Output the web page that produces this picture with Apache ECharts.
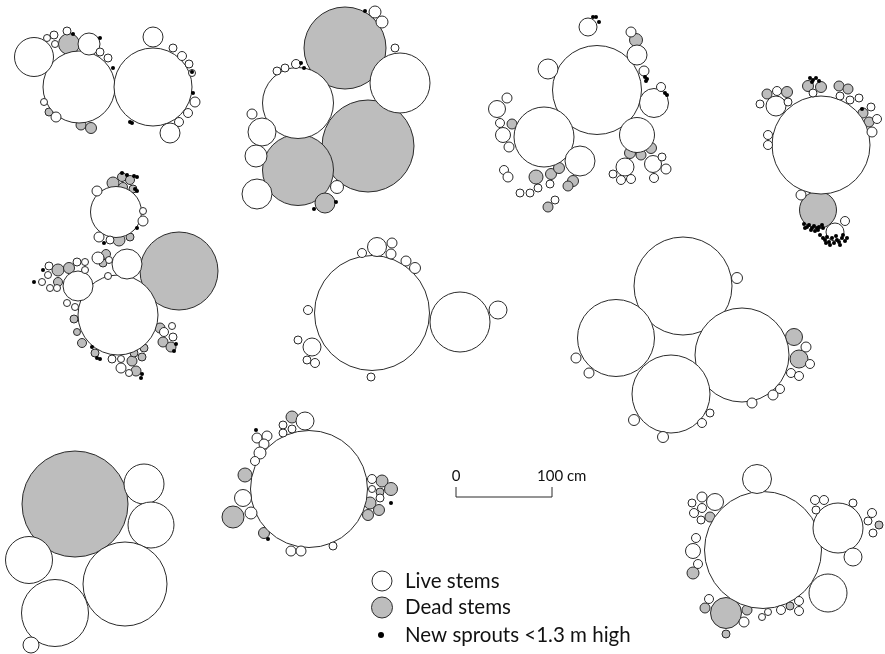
<!DOCTYPE html>
<html>
<head>
<meta charset="utf-8">
<script src="https://cdn.jsdelivr.net/npm/echarts@6/dist/echarts.min.js"></script>
<style>
  html, body { margin: 0; padding: 0; background: #fff; }
  #chart { width: 885px; height: 654px; }
</style>
</head>
<body>
<div id="chart"></div>
<script>
// Stem maps of coppice clumps. Each stem: [x, y, diameter], plotted in map units (1 unit = 1 px, 100 cm = 96 units).
const deadStems = [
  // clump 1
  [69, 44, 21], [49, 112, 8], [81, 125, 10], [91, 128, 11],
  // clump 2
  [345, 48, 82], [368, 146, 92], [298, 170, 71], [325, 203, 20],
  // clump 3
  [636, 40, 13], [512, 124, 10], [536, 177, 14], [551, 174, 11], [559, 168, 11],
  [573, 181, 11], [568, 186, 10], [548, 207, 10], [630, 153, 11], [641, 155, 10], [651, 148, 11],
  // clump 4
  [818, 210, 37], [767, 94, 10], [787, 92, 11], [808, 86, 11], [821, 87, 11],
  [839, 86, 10], [848, 89, 10], [863, 113, 10], [869, 122, 10],
  // clump 5
  [179, 271, 78], [113, 183, 12], [122, 177, 9], [130, 180, 9], [133, 189, 8], [123, 187, 9],
  [119, 240, 12], [130, 237, 8], [106, 254, 9], [103, 263, 8], [58, 270, 12], [69, 268, 11],
  [58, 282, 9], [74, 319, 8], [77, 332, 7], [82, 343, 9], [95, 353, 8], [160, 328, 10],
  [163, 342, 10], [171, 347, 10], [132, 361, 10], [142, 357, 8], [144, 348, 8], [134, 353, 8], [136, 371, 10],
  // clump 7
  [794, 337, 17], [799, 359, 18],
  // clump 8
  [75, 504, 106],
  // clump 9
  [292, 417, 12], [245, 475, 14], [233, 517, 22], [264, 533, 11], [382, 481, 12], [391, 489, 13],
  [380, 492, 8], [370, 503, 12], [379, 510, 11], [368, 515, 11],
  // clump 11
  [726, 613, 31], [710, 517, 10], [693, 573, 12], [705, 608, 10], [747, 610, 10], [726, 634, 8],
  [790, 606, 8], [879, 525, 8]
];

const liveStems = [
  // clump 1
  [79, 87, 72], [153, 87, 78], [34, 57, 39], [89, 44, 22], [47, 38, 7], [54, 35, 8], [67, 31, 8],
  [55, 44, 7], [100, 52, 8], [108, 58, 8], [153, 37, 20], [173, 48, 8], [182, 56, 9], [189, 64, 8],
  [192, 73, 7], [195, 102, 10], [188, 113, 9], [179, 122, 9], [170, 133, 20], [44, 102, 7], [56, 117, 10],
  // clump 2
  [400, 83, 60], [298, 103, 71], [262, 132, 28], [256, 156, 22], [257, 194, 30], [252, 114, 10],
  [337, 187, 13], [375, 12, 12], [382, 22, 12], [395, 48, 8], [277, 71, 8], [285, 68, 8], [296, 64, 9],
  // clump 3
  [597, 90, 89], [544, 137, 60], [654, 103, 29], [637, 135, 35], [580, 161, 30], [588, 27, 18],
  [548, 69, 20], [631, 32, 10], [637, 55, 20], [644, 71, 10], [661, 87, 9], [507, 98, 10], [497, 109, 17],
  [500, 123, 9], [503, 135, 15], [509, 147, 10], [504, 170, 9], [508, 177, 10], [550, 184, 8],
  [538, 188, 8], [530, 193, 8], [520, 193, 8], [555, 200, 8], [625, 167, 18], [653, 164, 17],
  [662, 157, 8], [666, 169, 10], [613, 174, 8], [621, 180, 9], [631, 179, 9], [654, 178, 9],
  // clump 4
  [821, 145, 98], [835, 232, 18], [845, 221, 9], [801, 195, 10], [768, 135, 9], [768, 145, 9],
  [776, 106, 20], [777, 91, 9], [760, 104, 8], [788, 102, 8], [813, 93, 8], [840, 96, 8], [850, 100, 8],
  [859, 98, 8], [871, 107, 8], [877, 119, 9], [872, 132, 10],
  // clump 5
  [118, 315, 80], [127, 264, 30], [116, 212, 51], [78, 286, 30], [97, 191, 10], [143, 211, 7],
  [143, 221, 10], [99, 237, 10], [110, 240, 8], [98, 258, 12], [109, 260, 7], [108, 276, 7],
  [49, 266, 8], [77, 262, 8], [85, 262, 7], [85, 270, 7], [48, 275, 7], [42, 282, 7], [50, 288, 7],
  [57, 288, 7], [67, 303, 7], [75, 307, 7], [172, 326, 7], [164, 332, 9], [173, 337, 8],
  [112, 359, 8], [121, 359, 7], [121, 368, 10], [129, 373, 7],
  // clump 6
  [372, 313, 115], [460, 322, 60], [498, 310, 18], [377, 247, 19], [392, 243, 10], [391, 254, 10],
  [362, 253, 9], [406, 261, 10], [415, 268, 11], [308, 310, 9], [312, 347, 18], [298, 340, 8],
  [307, 360, 8], [315, 363, 9], [371, 377, 8],
  // clump 7
  [683, 286, 98], [616, 338, 77], [742, 355, 94], [671, 394, 78], [737, 278, 11], [576, 358, 10],
  [589, 373, 10], [806, 347, 10], [810, 364, 9], [791, 373, 9], [799, 376, 9], [780, 389, 9],
  [773, 395, 10], [752, 403, 10], [634, 420, 11], [702, 423, 9], [710, 413, 8], [663, 437, 11],
  // clump 8
  [144, 484, 40], [151, 525, 46], [125, 584, 84], [29, 560, 47], [55, 613, 67], [31, 645, 16],
  // clump 9
  [309, 489, 117], [305, 421, 18], [283, 425, 8], [292, 429, 8], [283, 433, 8], [257, 438, 10],
  [267, 436, 10], [264, 444, 10], [260, 453, 12], [255, 461, 9], [243, 498, 17], [251, 513, 12],
  [291, 551, 10], [301, 551, 10], [333, 546, 8], [372, 479, 9], [372, 489, 7], [380, 498, 8],
  // clump 11
  [763, 550, 117], [757, 479, 29], [838, 528, 50], [828, 593, 38], [853, 557, 18], [715, 502, 17],
  [702, 497, 10], [692, 503, 8], [702, 508, 9], [694, 513, 9], [701, 520, 8], [696, 538, 9],
  [693, 551, 15], [698, 564, 9], [815, 500, 9], [824, 500, 9], [816, 510, 8], [853, 503, 8],
  [872, 513, 9], [868, 521, 8], [873, 533, 8], [709, 599, 9], [744, 622, 10], [762, 617, 7],
  [768, 612, 7], [781, 610, 9], [799, 601, 9], [799, 611, 9]
];

const newSprouts = [
  // clump 1
  [73, 34], [100, 38], [113, 68], [192, 72], [193, 93], [130, 122], [132, 123],
  // clump 2
  [365, 11], [301, 63], [304, 68], [336, 202], [314, 209],
  // clump 3
  [593, 17], [596, 17], [599, 22], [645, 77], [647, 79], [646, 81], [665, 93], [667, 95],
  // clump 4
  [810, 78], [813, 80], [816, 78], [819, 81], [812, 82], [862, 109],
  [804, 224], [807, 227], [809, 225], [812, 228], [814, 226], [817, 228], [819, 227], [822, 225],
  [805, 228], [811, 230], [815, 231], [818, 230], [823, 228], [820, 235], [823, 238], [825, 240],
  [827, 237], [829, 242], [832, 238], [834, 243], [837, 240], [839, 242], [842, 238], [843, 235],
  [845, 241], [840, 245], [830, 245], [826, 243], [836, 236], [847, 238],
  // clump 5
  [122, 173], [127, 175], [134, 176], [137, 177], [135, 189], [137, 191], [137, 228], [104, 243],
  [43, 270], [34, 282], [92, 347], [97, 358], [100, 359], [176, 344], [174, 351], [142, 374], [141, 378],
  // clump 9
  [256, 430], [268, 539], [391, 503]
];

const legendLabels = ['Live stems', 'Dead stems', 'New sprouts <1.3 m high'];
const scaleLabels = ['0', '100 cm'];
const scaleLengthCm = 100;
const unitsPerCm = 0.96;

const LINE = '#2b2b2b';
const DEAD_FILL = '#bdbdbd';

const chart = echarts.init(document.getElementById('chart'), null, { renderer: 'canvas' });

const stemSeries = (name, data, fill) => ({
  name,
  type: 'scatter',
  data,
  symbol: 'circle',
  symbolSize: v => v[2],
  itemStyle: { color: fill, borderColor: LINE, borderWidth: 1, opacity: 1 },
  emphasis: { disabled: true },
  silent: true,
  animation: false
});

chart.setOption({
  backgroundColor: '#ffffff',
  animation: false,
  grid: { left: 0, right: 0, top: 0, bottom: 0 },
  xAxis: { type: 'value', min: 0, max: 885, show: false },
  yAxis: { type: 'value', min: 0, max: 654, inverse: true, show: false },
  series: [
    stemSeries(legendLabels[1], deadStems, DEAD_FILL),
    stemSeries(legendLabels[0], liveStems, '#ffffff'),
    {
      name: legendLabels[2],
      type: 'scatter',
      data: newSprouts,
      symbol: 'circle',
      symbolSize: 4,
      itemStyle: { color: '#000000', opacity: 1 },
      silent: true,
      animation: false
    },
    // scale bar
    {
      type: 'line',
      data: [[456, 487], [456, 497], [456 + scaleLengthCm * unitsPerCm, 497], [456 + scaleLengthCm * unitsPerCm, 487]],
      symbol: 'none',
      lineStyle: { color: LINE, width: 1 },
      silent: true,
      animation: false
    }
  ]
});

// Scale labels and legend
const px = (x, y) => chart.convertToPixel({ gridIndex: 0 }, [x, y]);
const p0 = px(456, 476);
const p1 = px(456 + scaleLengthCm * unitsPerCm, 476);
const font = 'Lato, "Open Sans", sans-serif';
const legendTop = 581;
const legendGap = 26.5;
chart.setOption({
  graphic: [
    { type: 'text', x: p0[0], y: p0[1], style: { text: scaleLabels[0], font: '15px ' + font, fill: '#111', align: 'center', verticalAlign: 'middle' } },
    { type: 'text', x: p1[0] - 15, y: p1[1], style: { text: scaleLabels[1], font: '15px ' + font, fill: '#111', align: 'left', verticalAlign: 'middle' } },
    { type: 'circle', shape: { cx: 382, cy: legendTop, r: 10 }, style: { fill: '#fff', stroke: LINE, lineWidth: 1 } },
    { type: 'circle', shape: { cx: 382, cy: legendTop + legendGap, r: 10.5 }, style: { fill: DEAD_FILL, stroke: LINE, lineWidth: 1 } },
    { type: 'circle', shape: { cx: 381, cy: legendTop + 2 * legendGap + 1, r: 3 }, style: { fill: '#000' } },
    { type: 'text', x: 405, y: legendTop, style: { text: legendLabels[0], font: '20.5px ' + font, fill: '#111', verticalAlign: 'middle' } },
    { type: 'text', x: 405, y: legendTop + legendGap, style: { text: legendLabels[1], font: '20.5px ' + font, fill: '#111', verticalAlign: 'middle' } },
    { type: 'text', x: 405, y: legendTop + 2 * legendGap + 1, style: { text: legendLabels[2], font: '20.5px ' + font, fill: '#111', verticalAlign: 'middle' } }
  ]
});
</script>
</body>
</html>
